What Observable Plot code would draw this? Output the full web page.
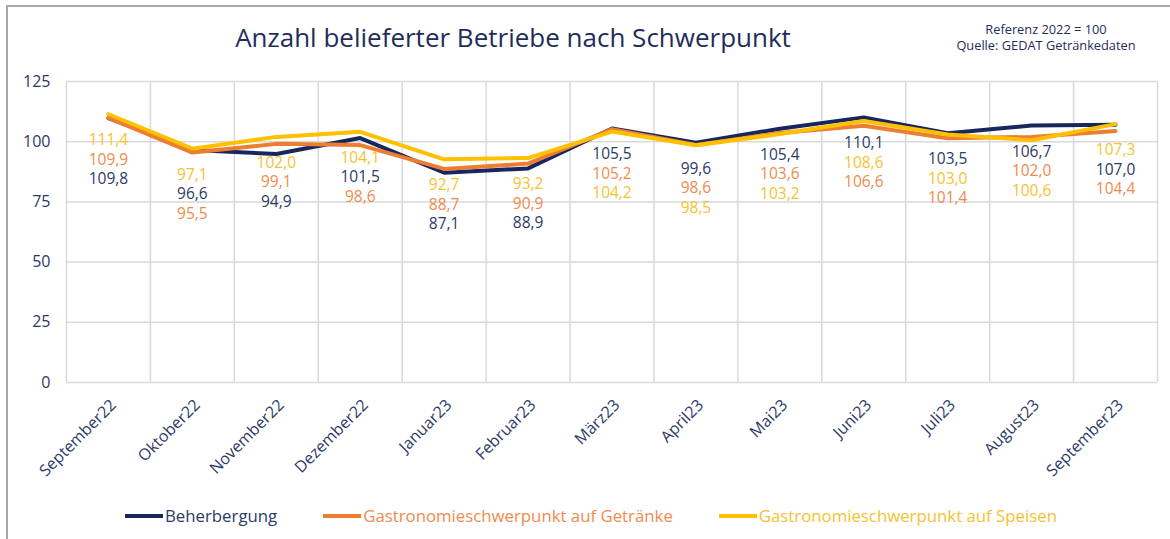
<!DOCTYPE html>
<html>
<head>
<meta charset="utf-8">
<script src="https://cdn.jsdelivr.net/npm/d3@7"></script>
<script src="https://cdn.jsdelivr.net/npm/@observablehq/plot@0.6"></script>
<style>
  html, body { margin: 0; padding: 0; background: #fff; }
  #wrap { position: relative; width: 1170px; height: 539px; overflow: hidden; font-family: "Open Sans", sans-serif; background: #fff; }
  #frame { position: absolute; left: 6px; top: 5px; width: 1200px; height: 600px; border-left: 2px solid #a9a9a9; border-top: 2px solid #a9a9a9; }
  #title { position: absolute; left: 0; width: 1026px; top: 22px; text-align: center; font-size: 26px; color: #1f2d5a; line-height: 1.2; }
  #note { position: absolute; left: 946px; width: 200px; top: 21px; text-align: center; font-size: 12.8px; color: #1f2d5a; line-height: 16px; }
  #chart { position: absolute; left: 0; top: 70px; }
  #legend { position: absolute; left: 125px; top: 504px; display: flex; gap: 46px; font-size: 16.8px; line-height: 24px; }
  .item { display: flex; align-items: center; }
  .sw { display: inline-block; width: 38px; height: 4px; margin-right: 2px; }
</style>
</head>
<body>
<div id="wrap">
  <div id="frame"></div>
  <div id="title"></div>
  <div id="note"></div>
  <div id="chart"></div>
  <div id="legend"></div>
</div>
<script>
const months = ["September22","Oktober22","November22","Dezember22","Januar23","Februar23","März23","April23","Mai23","Juni23","Juli23","August23","September23"];
const beherbergung = [109.8, 96.6, 94.9, 101.5, 87.1, 88.9, 105.5, 99.6, 105.4, 110.1, 103.5, 106.7, 107.0];
const getraenke    = [109.9, 95.5, 99.1, 98.6, 88.7, 90.9, 105.2, 98.6, 103.6, 106.6, 101.4, 102.0, 104.4];
const speisen      = [111.4, 97.1, 102.0, 104.1, 92.7, 93.2, 104.2, 98.5, 103.2, 108.6, 103.0, 100.6, 107.3];
const seriesNames  = ["Beherbergung", "Gastronomieschwerpunkt auf Getränke", "Gastronomieschwerpunkt auf Speisen"];
const lineColors   = ["#17275e", "#ed7d31", "#ffc000"];
const textColors   = ["#2c3a68", "#ef8b4e", "#f6c232"];
const yTicks       = [0, 25, 50, 75, 100, 125];
const titleText    = "Anzahl belieferter Betriebe nach Schwerpunkt";
const noteLines    = ["Referenz 2022 = 100", "Quelle: GEDAT Getränkedaten"];

const seriesValues = [beherbergung, getraenke, speisen];
const rows = [];
seriesValues.forEach((vals, s) => vals.forEach((v, i) => rows.push({i, value: v, s, stroke: lineColors[s], fill: textColors[s]})));

const labels = [];
months.forEach((m, i) => {
  const col = rows.filter(d => d.i === i).sort((a, b) => b.value - a.value);
  const top = col[0].value;
  col.forEach((d, r) => labels.push({i, top, rank: r, fill: d.fill, text: d.value.toFixed(1).replace(".", ",")}));
});

const idx = months.map((m, i) => i);
const bounds = d3.range(-0.5, months.length, 1);

const chart = Plot.plot({
  width: 1170,
  height: 420,
  marginLeft: 66,
  marginRight: 13,
  marginTop: 11,
  marginBottom: 108,
  x: {type: "linear", domain: [-0.5, months.length - 0.5]},
  y: {domain: [0, 125]},
  color: {type: "identity"},
  style: {fontFamily: "Open Sans, sans-serif", background: "transparent", overflow: "visible"},
  marks: [
    Plot.ruleY(yTicks, {stroke: "#d9d9d9", strokeWidth: 1.5}),
    Plot.ruleX(bounds, {stroke: "#d9d9d9", strokeWidth: 1.5}),
    ...[0, 1, 2].map(s => Plot.lineY(rows.filter(d => d.s === s), {x: "i", y: "value", stroke: "stroke", strokeWidth: 4, strokeLinejoin: "miter"})),
    ...[0, 1, 2].map(r => Plot.text(labels.filter(d => d.rank === r), {x: "i", y: "top", text: "text", fill: "fill", dy: 26 + r * 19.5, fontSize: 15.5, lineHeight: 1})),
    Plot.axisY({ticks: yTicks, tickSize: 0, tickPadding: 16, fontSize: 16, color: "#2c3a68", label: null}),
    Plot.axisX({ticks: idx, tickFormat: i => months[i], tickSize: 0, tickPadding: 20, dx: 5, tickRotate: -45, fontSize: 16, color: "#2c3a68", label: null})
  ]
});
document.getElementById("chart").appendChild(chart);

document.getElementById("title").textContent = titleText;
document.getElementById("note").innerHTML = noteLines.map(t => `<div>${t}</div>`).join("");
const legend = document.getElementById("legend");
seriesNames.forEach((n, s) => {
  const it = document.createElement("div");
  it.className = "item";
  it.innerHTML = `<span class="sw" style="background:${lineColors[s]}"></span><span style="color:${textColors[s]}">${n}</span>`;
  legend.appendChild(it);
});
</script>
</body>
</html>
